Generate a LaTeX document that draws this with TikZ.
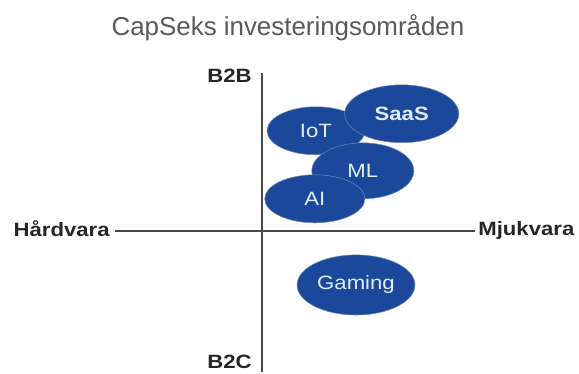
\documentclass[tikz,border=0pt]{standalone}
\usepackage{fontspec}
\setmainfont{Liberation Sans}
\newfontfamily\widefont{Liberation Sans}[FakeStretch=1.15]
\usetikzlibrary{positioning,shapes.geometric}

\definecolor{areablue}{RGB}{27,72,154}
\definecolor{arealabel}{RGB}{226,236,248}
\definecolor{titlegray}{RGB}{89,89,89}
\definecolor{axisgray}{RGB}{72,72,72}

\tikzset{
	area/.style={ellipse, fill=areablue, draw=white!35!areablue, line width=0.4pt,
		text=arealabel, font=\widefont\fontsize{14.5}{16}\selectfont, inner sep=0pt},
	boldarea/.style={area, font=\widefont\bfseries\fontsize{14.5}{16}\selectfont},
	axislabel/.style={font=\widefont\bfseries\fontsize{14.5}{16}\selectfont,
		text=black!85, inner sep=0pt, text depth=0pt},
	axisline/.style={draw=axisgray, line width=1.3pt}
}

\begin{document}
\begin{tikzpicture}
	\useasboundingbox (-6.93,-3.78) rectangle (8.39,6.11);
	
	% Title
	\node[font=\fontsize{19.5}{22}\selectfont, text=titlegray] (title) at (0.69,5.37) {CapSeks investeringsområden};
	
	% Axes
	\coordinate (hwend) at (-3.89,0);
	\coordinate (swend) at (5.64,0);
	\coordinate (btobend) at (0,4.18);
	\coordinate (btocend) at (0,-3.73);
	\draw[axisline] (hwend) -- (swend);
	\draw[axisline] (btobend) -- (btocend);
	
	\node[axislabel, left=3.75pt of hwend, yshift=1.5pt] (hard) {Hårdvara};
	\node[axislabel, right=2.25pt of swend, yshift=1.5pt] (soft) {Mjukvara};
	\node[axislabel, left=7.5pt of btobend, yshift=-2.25pt] (btob) {B2B};
	\node[axislabel, left=7.5pt of btocend, yshift=7.9pt] (btoc) {B2C};
	
	% Areas
	\node[area,
	minimum width=2.59cm,
	minimum height=1.27cm] (iot) at (1.43,2.65) {IoT};
	\node[boldarea, minimum width=3.02cm, minimum height=1.53cm] (saas) at (3.70,3.10) {SaaS};
	\node[area, minimum width=2.70cm, minimum height=1.48cm] (ml) at (2.67,1.59) {ML};
	\node[area, minimum width=2.65cm, minimum height=1.27cm] (ai) at (1.40,0.85) {AI};
	\node[area, minimum width=3.12cm, minimum height=1.59cm] (gaming) at (2.49,-1.43) {Gaming};
	
\end{tikzpicture}
\end{document}
